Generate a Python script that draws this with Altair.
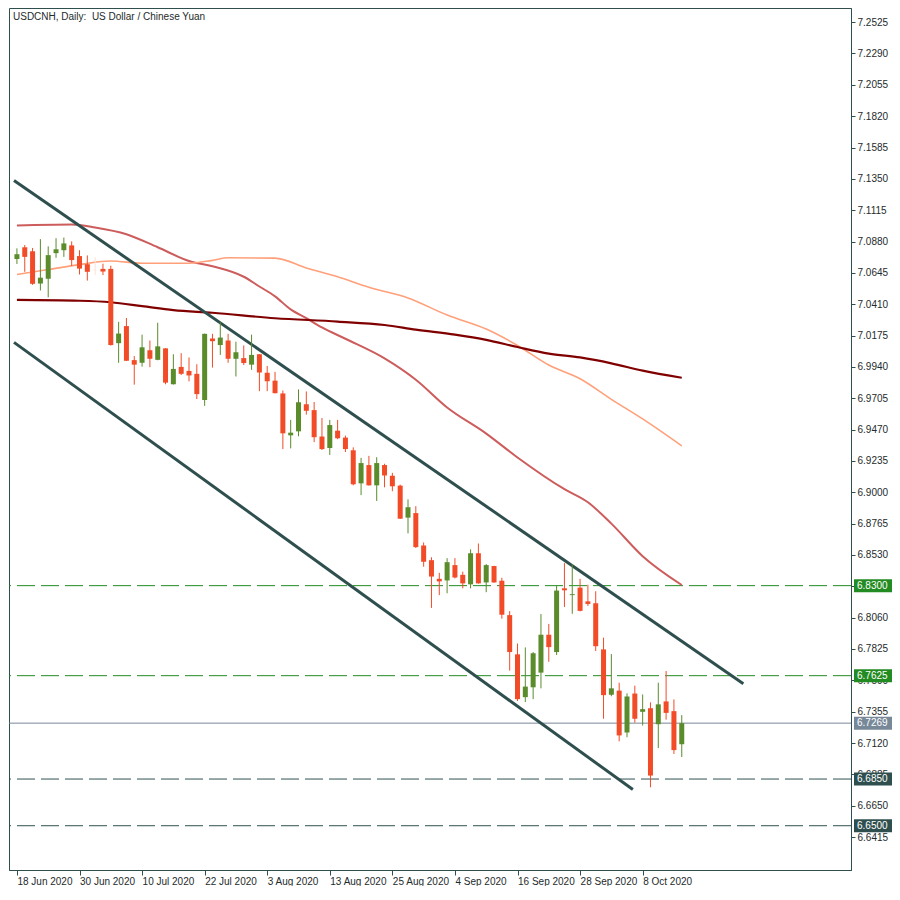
import altair as alt
import pandas as pd

# ---------------- data ----------------
title_text = "USDCNH, Daily:\u00a0 US Dollar / Chinese Yuan"

# daily bars, bar index 0 = 18 Jun 2020
bar_open = [7.0749, 7.0837, 7.0807, 7.0565, 7.0601, 7.0793, 7.0815, 7.0851, 7.0771, 7.0710,
            7.0668, 7.0675, 7.0675, 7.0118, 7.0246, 6.9991, 6.9971, 7.0065, 6.9993, 7.0079,
            6.9810, 6.9940, 6.9910, 6.9888, 6.9692, 7.0153, 7.0104, 7.0138, 7.0001, 7.0006,
            6.9957, 7.0035, 6.9896, 6.9837, 6.9741, 6.9427, 6.9457, 6.9660, 6.9616, 6.9418,
            6.9332, 6.9462, 6.9410, 6.9315, 6.9067, 6.9204, 6.9052, 6.9204, 6.9124, 6.9050,
            6.8810, 6.8844, 6.8601, 6.8491, 6.8351, 6.8339, 6.8454, 6.8381, 6.8310, 6.8543,
            6.8324, 6.8447, 6.8337, 6.8079, 6.7785, 6.7464, 6.7538, 6.7648, 6.7932, 6.7802,
            6.8280, 6.8229, 6.8285, 6.8182, 6.8168, 6.7822, 6.7482, 6.7513, 6.7199, 6.7491,
            6.7354, 6.7381, 6.7261, 6.7432, 6.7359, 6.7111]
bar_high = [7.0829, 7.0854, 7.0832, 7.0898, 7.0844, 7.0905, 7.0910, 7.0881, 7.0815, 7.0776,
            7.0763, 7.0714, 7.0699, 7.0278, 7.0307, 7.0021, 7.0182, 7.0138, 7.0271, 7.0081,
            7.0035, 7.0043, 7.0011, 6.9960, 7.0190, 7.0188, 7.0276, 7.0188, 7.0129, 7.0101,
            7.0182, 7.0037, 6.9947, 6.9903, 6.9763, 6.9543, 6.9771, 6.9756, 6.9677, 6.9557,
            6.9543, 6.9543, 6.9425, 6.9337, 6.9258, 6.9273, 6.9263, 6.9214, 6.9146, 6.9057,
            6.8947, 6.8896, 6.8624, 6.8513, 6.8396, 6.8506, 6.8506, 6.8405, 6.8572, 6.8616,
            6.8462, 6.8449, 6.8359, 6.8109, 6.7866, 6.7837, 6.7802, 6.8087, 6.8013, 6.8300,
            6.8469, 6.8462, 6.8351, 6.8307, 6.8258, 6.7910, 6.7787, 6.7572, 6.7493, 6.7550,
            6.7484, 6.7425, 6.7572, 6.7660, 6.7447, 6.7329]
bar_low = [7.0712, 7.0653, 7.0555, 7.0513, 7.0462, 7.0758, 7.0765, 7.0697, 7.0633, 7.0587,
           7.0629, 7.0629, 7.0100, 6.9971, 6.9984, 6.9807, 6.9942, 6.9938, 6.9990, 6.9810,
           6.9808, 6.9879, 6.9832, 6.9699, 6.9648, 6.9935, 7.0030, 6.9971, 6.9868, 6.9954,
           6.9918, 6.9758, 6.9758, 6.9741, 6.9324, 6.9329, 6.9420, 6.9582, 6.9376, 6.9317,
           6.9280, 6.9398, 6.9302, 6.9052, 6.8979, 6.9050, 6.8935, 6.9037, 6.9008, 6.8800,
           6.8692, 6.8582, 6.8442, 6.8133, 6.8229, 6.8243, 6.8354, 6.8280, 6.8280, 6.8315,
           6.8251, 6.8322, 6.8052, 6.7663, 6.7435, 6.7427, 6.7449, 6.7530, 6.7729, 6.7780,
           6.8140, 6.8089, 6.8107, 6.8148, 6.7810, 6.7302, 6.7471, 6.7133, 6.7163, 6.7273,
           6.7251, 6.6788, 6.7082, 6.7295, 6.7038, 6.7015]
bar_close = [7.0785, 7.0765, 7.0563, 7.0609, 7.0778, 7.0822, 7.0866, 7.0741, 7.0677, 7.0653,
             7.0664, 7.0655, 7.0104, 7.0190, 6.9986, 6.9957, 7.0087, 7.0001, 7.0094, 6.9822,
             6.9925, 6.9888, 6.9876, 6.9736, 7.0188, 7.0133, 7.0160, 7.0001, 7.0050, 6.9969,
             7.0030, 6.9898, 6.9832, 6.9743, 6.9442, 6.9447, 6.9675, 6.9611, 6.9413, 6.9324,
             6.9504, 6.9405, 6.9324, 6.9060, 6.9219, 6.9052, 6.9219, 6.9126, 6.9045, 6.8802,
             6.8888, 6.8589, 6.8479, 6.8368, 6.8332, 6.8476, 6.8361, 6.8317, 6.8543, 6.8317,
             6.8454, 6.8324, 6.8082, 6.7802, 6.7449, 6.7543, 6.7793, 6.7932, 6.7839, 6.8263,
             6.8265, 6.8236, 6.8111, 6.8163, 6.7846, 6.7479, 6.7530, 6.7177, 6.7469, 6.7302,
             6.7374, 6.6876, 6.7410, 6.7346, 6.7067, 6.7269]
pale_bars = [10]

date_tick_idx = [0, 8, 16, 24, 32, 40, 48, 56, 64, 72, 80]
date_tick_labels = ["18 Jun 2020", "30 Jun 2020", "10 Jul 2020", "22 Jul 2020", "3 Aug 2020",
                    "13 Aug 2020", "25 Aug 2020", "4 Sep 2020", "16 Sep 2020", "28 Sep 2020",
                    "8 Oct 2020"]

price_ticks = [7.2525, 7.2290, 7.2055, 7.1820, 7.1585, 7.1350, 7.1115, 7.0880, 7.0645,
               7.0410, 7.0175, 6.9940, 6.9705, 6.9470, 6.9235, 6.9000, 6.8765, 6.8530,
               6.8295, 6.8060, 6.7825, 6.7590, 6.7355, 6.7120, 6.6885, 6.6650, 6.6415]

# moving averages
ma_fast_idx = [0, 7, 10, 14, 18, 22, 25, 29, 31, 33, 35, 37, 39, 42, 47, 51, 55, 60, 64, 70, 73, 76, 80, 85]
ma_fast_val = [7.1001, 7.1008, 7.0986, 7.0935, 7.0837, 7.0734, 7.0695, 7.0616, 7.0543, 7.0469,
               7.0371, 7.0305, 7.0236, 7.0151, 7.0004, 6.9844, 6.9636, 6.9440, 6.9261, 6.9023,
               6.8925, 6.8765, 6.8521, 6.8305]
ma_mid_idx = [0, 4, 8, 12, 16, 22, 25, 27, 33, 37, 41, 45, 50, 55, 60, 64, 68, 72, 76, 80, 85]
ma_mid_val = [7.0633, 7.0670, 7.0707, 7.0734, 7.0717, 7.0717, 7.0739, 7.0758, 7.0756, 7.0682,
              7.0616, 7.0537, 7.0457, 7.0329, 7.0224, 7.0101, 6.9954, 6.9851, 6.9697, 6.9550,
              6.9348]
ma_slow_idx = [0, 8, 12, 16, 20, 25, 33, 41, 47, 51, 56, 60, 64, 68, 72, 76, 80, 85]
ma_slow_val = [7.0442, 7.0436, 7.0425, 7.0396, 7.0366, 7.0346, 7.0305, 7.0280, 7.0254, 7.0219,
               7.0182, 7.0143, 7.0089, 7.0040, 7.0011, 6.9967, 6.9912, 6.9859]

# channel trend lines
channel_upper_idx = [-0.375, 92.875]
channel_upper_val = [7.1337, 6.7565]
channel_lower_idx = [-0.375, 78.75]
channel_lower_val = [7.0124, 6.6771]

# horizontal levels
level_values = [6.8300, 6.7625, 6.7269, 6.6850, 6.6500]
level_kinds = ["resistance", "resistance", "last", "support", "support"]

# ---------------- tables ----------------
bars = pd.DataFrame({
    "idx": list(range(len(bar_open))),
    "open": bar_open, "high": bar_high, "low": bar_low, "close": bar_close,
})
bars["kind"] = [
    "pale" if i in pale_bars else ("up" if c >= o else "down")
    for i, o, c in zip(bars["idx"], bars["open"], bars["close"])
]

ma = pd.concat([
    pd.DataFrame({"idx": ma_fast_idx, "price": ma_fast_val, "series": "fast"}),
    pd.DataFrame({"idx": ma_mid_idx, "price": ma_mid_val, "series": "mid"}),
    pd.DataFrame({"idx": ma_slow_idx, "price": ma_slow_val, "series": "slow"}),
])
channel = pd.concat([
    pd.DataFrame({"idx": channel_upper_idx, "price": channel_upper_val, "line": "upper"}),
    pd.DataFrame({"idx": channel_lower_idx, "price": channel_lower_val, "line": "lower"}),
])
levels = pd.DataFrame({"price": level_values, "kind": level_kinds,
                       "label": [f"{v:.4f}" for v in level_values]})
title_df = pd.DataFrame({"t": [title_text]})

# ---------------- styling ----------------
W, H = 842, 862
FONT = "Liberation Sans"
AX = "#2f4f4f"
TXT = "#1e2b2b"

label_expr = " : ".join(
    f"datum.value == {i} ? '{t}'" for i, t in zip(date_tick_idx, date_tick_labels)
) + " : ''"

xscale = alt.Scale(domain=[-0.375, 106], nice=False, zero=False)
yscale = alt.Scale(domain=[6.6168, 7.2631], nice=False, zero=False)
xaxis = alt.Axis(values=date_tick_idx, labelExpr=label_expr, labelAlign="left",
                 labelBaseline="top", labelPadding=1, tickSize=5, grid=False,
                 labelOverlap=False, labelFlush=False, domainColor=AX, tickColor=AX,
                 labelColor=TXT, labelFont=FONT, labelFontSize=10, title=None)
yaxis = alt.Axis(orient="right", values=price_ticks, format=".4f", tickSize=4,
                 labelPadding=2, grid=False, labelOverlap=False, labelFlush=False,
                 domainColor=AX, tickColor=AX, labelColor=TXT, labelFont=FONT,
                 labelFontSize=10, title=None)


def X(field):
    return alt.X(f"{field}:Q", scale=xscale, axis=xaxis, title=None)


def Y(field):
    return alt.Y(f"{field}:Q", scale=yscale, axis=yaxis, title=None)


GREEN_C, RED_C, PALE_C = "#5a8c2c", "#f24b27", "#fbe4d6"

layers = []

# horizontal levels
for kind, col, dash in [("resistance", "#228b22", [18, 6]),
                        ("support", "#2f4f4f", [18, 6]),
                        ("last", "#778899", [1, 0])]:
    layers.append(
        alt.Chart(levels).transform_filter(alt.datum.kind == kind)
        .mark_rule(strokeWidth=1, color=col, strokeDash=dash)
        .encode(y=Y("price"))
    )

# moving averages
for series, col, sw in [("fast", "#cd5c5c", 2), ("mid", "#ffa07a", 1.6), ("slow", "#800000", 2.2)]:
    layers.append(
        alt.Chart(ma).transform_filter(alt.datum.series == series)
        .mark_line(color=col, strokeWidth=sw, interpolate="monotone")
        .encode(x=X("idx"), y=Y("price"))
    )

# channel
layers.append(
    alt.Chart(channel).mark_line(color="#2f4f4f", strokeWidth=3)
    .encode(x=X("idx"), y=Y("price"), detail="line:N")
)

# candles
for kind, col in [("up", GREEN_C), ("down", RED_C), ("pale", PALE_C)]:
    layers.append(
        alt.Chart(bars).transform_filter(alt.datum.kind == kind)
        .mark_rule(strokeWidth=1, color=col)
        .encode(x=X("idx"), y=Y("low"), y2="high")
    )
    layers.append(
        alt.Chart(bars).transform_filter(alt.datum.kind == kind)
        .mark_bar(size=5, color=col)
        .encode(x=X("idx"), y=Y("open"), y2="close")
    )

# title
layers.append(
    alt.Chart(title_df).mark_text(align="left", baseline="middle", font=FONT,
                                  fontSize=10, color=TXT)
    .encode(text="t:N", x=alt.value(4), y=alt.value(9))
)

# price boxes on the right axis
for kind, col in [("resistance", "#228b22"), ("support", "#2f4f4f"), ("last", "#778899")]:
    layers.append(
        alt.Chart(levels).transform_filter(alt.datum.kind == kind)
        .mark_tick(orient="horizontal", size=38, thickness=13, opacity=1, color=col)
        .encode(x=alt.value(W + 22), y=Y("price"))
    )
layers.append(
    alt.Chart(levels).mark_text(align="left", baseline="middle", font=FONT,
                                fontSize=10, color="white")
    .encode(x=alt.value(W + 6), y=Y("price"), text="label:N")
)

chart = alt.layer(*layers).properties(
    width=W, height=H, padding=0, background="white"
).configure_view(stroke=AX, strokeWidth=1)

chart.save("out.html", embed_options={"renderer": "svg", "actions": False})
